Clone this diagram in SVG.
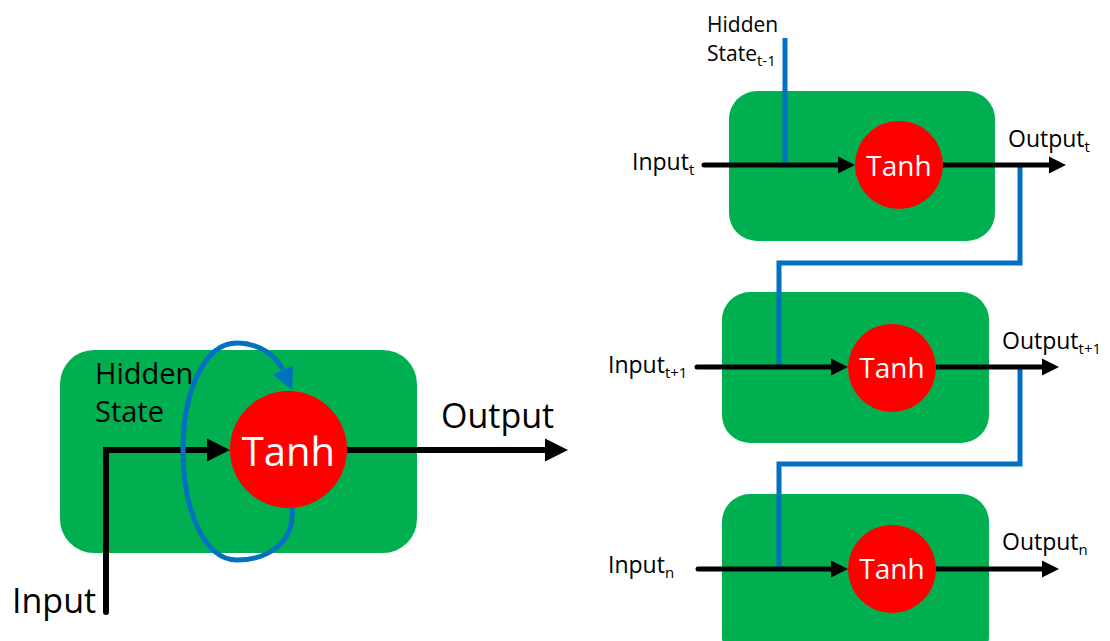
<svg xmlns="http://www.w3.org/2000/svg" width="1110" height="641" viewBox="0 0 1110 641">
  <style>
    .cell { fill: #00B050; }
    .act { fill: #FF0000; }
    .act-label { font-family: "Open Sans", "Liberation Sans", sans-serif; fill: #FFFFFF; text-anchor: middle; }
    .lbl { font-family: "Open Sans", "Liberation Sans", sans-serif; fill: #000000; }
    .flow { fill: none; stroke: #000000; stroke-linejoin: miter; }
    .state { fill: none; stroke: #0070C0; stroke-width: 5; stroke-linejoin: miter; }
  </style>
  <defs>
    <marker id="arrow-lg" markerUnits="userSpaceOnUse" viewBox="0 -12 24 24" markerWidth="24" markerHeight="24" refX="0" refY="0" orient="auto">
      <path d="M0,-11.5 L23,0 L0,11.5 z" fill="#000000"/>
    </marker>
    <marker id="arrow-sm" markerUnits="userSpaceOnUse" viewBox="0 -9 18 18" markerWidth="18" markerHeight="18" refX="0" refY="0" orient="auto">
      <path d="M0,-8.5 L17,0 L0,8.5 z" fill="#000000"/>
    </marker>
    <marker id="arrow-blue" markerUnits="userSpaceOnUse" viewBox="0 -12 24 24" markerWidth="24" markerHeight="24" refX="0" refY="0" orient="auto">
      <path d="M0,-11 L22,0 L0,11 z" fill="#0070C0"/>
    </marker>
  </defs>

  <!-- Folded RNN cell -->
  <g id="rnn-cell">
    <rect class="cell" x="60" y="350" width="357" height="203" rx="34" ry="34"/>
    <text class="lbl" x="95" y="384" font-size="29">Hidden</text>
    <text class="lbl" x="95" y="422" font-size="29">State</text>
  </g>

  <!-- Unrolled cells -->
  <g id="cell-t">
    <rect class="cell" x="729" y="91" width="266" height="150" rx="28" ry="28"/>
  </g>
  <g id="cell-t1">
    <rect class="cell" x="722" y="292" width="267" height="151" rx="28" ry="28"/>
  </g>
  <g id="cell-n">
    <rect class="cell" x="722" y="494" width="267" height="170" rx="28" ry="28"/>
  </g>

  <g id="connectors">
    <!-- folded cell: input, output -->
    <path class="flow" stroke-width="6" stroke-linecap="round" d="M106,612 V450 H207" marker-end="url(#arrow-lg)"/>
    <path class="flow" stroke-width="6" d="M347,450 H545" marker-end="url(#arrow-lg)"/>
    <!-- recurrent loop -->
    <path class="state" d="M292,508 C295,545 265,560 237,560 C205,560 183,512 183,450 C183,390 205,343 237,343 C260,343 277,357 283,370" marker-end="url(#arrow-blue)"/>

    <!-- hidden state chain -->
    <path class="state" d="M785,38 V165"/>
    <path class="state" d="M1020,167 V263 H779 V367"/>
    <path class="state" d="M1020,369 V464 H779 V569"/>

    <!-- unrolled inputs / outputs -->
    <path class="flow" stroke-width="5" stroke-linecap="round" d="M704,165 H838" marker-end="url(#arrow-sm)"/>
    <path class="flow" stroke-width="5" d="M943,165 H1049" marker-end="url(#arrow-sm)"/>
    <path class="flow" stroke-width="5" stroke-linecap="round" d="M697,367 H831" marker-end="url(#arrow-sm)"/>
    <path class="flow" stroke-width="5" d="M936,367 H1042" marker-end="url(#arrow-sm)"/>
    <path class="flow" stroke-width="5" stroke-linecap="round" d="M698,569 H831" marker-end="url(#arrow-sm)"/>
    <path class="flow" stroke-width="5" d="M936,569 H1042" marker-end="url(#arrow-sm)"/>
  </g>

  <!-- activation nodes -->
  <g id="tanh-main">
    <circle class="act" cx="288.5" cy="449.5" r="58.5"/>
    <text class="act-label" x="288.5" y="466" font-size="40">Tanh</text>
  </g>
  <g id="tanh-t">
    <circle class="act" cx="899" cy="165" r="44"/>
    <text class="act-label" x="899" y="176" font-size="28">Tanh</text>
  </g>
  <g id="tanh-t1">
    <circle class="act" cx="892" cy="368" r="44"/>
    <text class="act-label" x="892" y="378" font-size="28">Tanh</text>
  </g>
  <g id="tanh-n">
    <circle class="act" cx="892" cy="569" r="44"/>
    <text class="act-label" x="892" y="579" font-size="28">Tanh</text>
  </g>

  <!-- labels -->
  <g id="labels">
    <text class="lbl" x="12" y="613" font-size="34">Input</text>
    <text class="lbl" x="441" y="428" font-size="34">Output</text>

    <text class="lbl" x="707" y="32" font-size="21">Hidden</text>
    <text class="lbl" x="707" y="61" font-size="21">State<tspan font-size="15" dy="5">t-1</tspan></text>

    <text class="lbl" x="632" y="170" font-size="23">Input<tspan font-size="15" dy="5">t</tspan></text>
    <text class="lbl" x="1008" y="147" font-size="23">Output<tspan font-size="15" dy="5">t</tspan></text>

    <text class="lbl" x="608" y="373" font-size="23">Input<tspan font-size="15" dy="5">t+1</tspan></text>
    <text class="lbl" x="1002" y="349" font-size="23">Output<tspan font-size="15" dy="5">t+1</tspan></text>

    <text class="lbl" x="608" y="573" font-size="23">Input<tspan font-size="15" dy="5">n</tspan></text>
    <text class="lbl" x="1002" y="550" font-size="23">Output<tspan font-size="15" dy="5">n</tspan></text>
  </g>
</svg>
